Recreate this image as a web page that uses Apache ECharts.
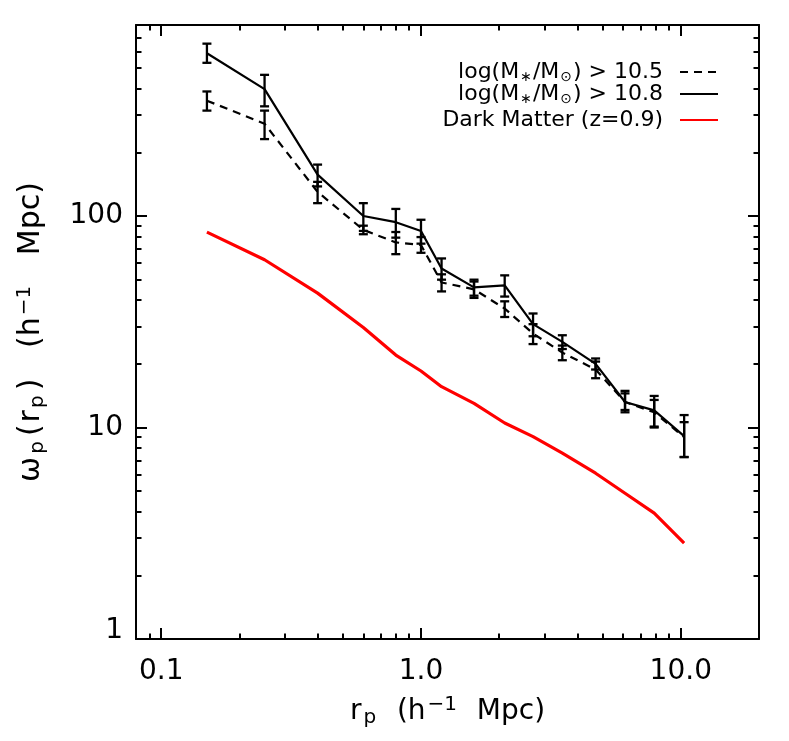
<!DOCTYPE html>
<html><head><meta charset="utf-8">
<script src="https://cdn.jsdelivr.net/npm/echarts@6/dist/echarts.min.js"></script>
<style>html,body{margin:0;padding:0;background:#fff}#c{width:789px;height:741px}</style>
</head><body><div id="c"></div>
<script>
// ---- data ----
const rp = [0.15, 0.25, 0.4, 0.6, 0.8, 1.0, 1.2, 1.6, 2.1, 2.7, 3.5, 4.7, 6.1, 7.9, 10.3];
const wp108 = [588, 398, 157, 100, 93.5, 85, 56.5, 46, 47, 30.8, 25.4, 20, 13.2, 12.05, 9.1];
const wp108Lo = [530, 330, 138, 85, 79, 74, 50, 42, 41.6, 27, 23.5, 18.8, 11.8, 10.0, 7.25];
const wp108Hi = [653, 465, 175, 115, 108, 96, 63, 50, 52.4, 34.6, 27.3, 21.2, 14.9, 14.1, 11.45];
const wp105 = [351, 273, 130, 86, 75, 73, 48.5, 45, 36.5, 27.8, 22.6, 18.8, 13.2, 11.8, 9.0];
const wp105Lo = [315, 231, 115, 82, 66, 67, 44, 41, 33.3, 24.8, 20.8, 17.1, 12.1, 10.1, 7.25];
const wp105Hi = [388, 315, 145, 90, 84, 79.5, 53, 49, 39.5, 30.8, 24.4, 20.5, 14.5, 13.5, 10.6];
const wpDM = [83.9, 62.1, 43.2, 29.7, 22.0, 18.5, 15.6, 13.0, 10.5, 9.05, 7.56, 6.08, 4.89, 3.94, 2.84];

const xMajor = [0.1, 1, 10];
const xMajorLabels = ['0.1', '1.0', '10.0'];
const xMinor = [0.09, 0.2, 0.3, 0.4, 0.5, 0.6, 0.7, 0.8, 0.9, 2, 3, 4, 5, 6, 7, 8, 9];
const yMajor = [1, 10, 100];
const yMajorLabels = ['1', '10', '100'];
const yMinor = [2, 3, 4, 5, 6, 7, 8, 9, 20, 30, 40, 50, 60, 70, 80, 90, 200, 300, 400, 500, 600, 700];

const legendNames = {
  d105: 'log(M{s|∗}/M{s|⊙}) > 10.5{g| }',
  d108: 'log(M{s|∗}/M{s|⊙}) > 10.8{g| }',
  dm: 'Dark Matter (z=0.9){g| }'
};

// ---- chart ----
const FONT = 'DejaVu Sans';
const chart = echarts.init(document.getElementById('c'), null, {renderer: 'canvas'});

function mkAxis(dim, pos, vals, len, showLine, labels) {
  const isX = dim === 'x';
  const a = {
    type: 'log', logBase: 10,
    min: isX ? 0.08 : 1, max: isX ? 20 : 800,
    position: pos, gridIndex: 0,
    splitLine: {show: false}, minorTick: {show: false}, minorSplitLine: {show: false},
    axisLine: {show: showLine, onZero: false, lineStyle: {color: '#000', width: 2}},
    axisTick: {show: true, inside: true, length: len, customValues: vals, lineStyle: {color: '#000', width: 2}},
    axisLabel: {show: false}
  };
  if (labels) {
    a.axisLabel = {
      show: true, customValues: vals, color: '#000', fontFamily: FONT, fontSize: 28,
      margin: isX ? 19 : 13,
      rich: {lift: {fontFamily: FONT, fontSize: 28, color: '#000', padding: [0, 0, 16, 0]}},
      formatter: function (v) {
        const i = vals.findIndex(t => Math.abs(Math.log10(t) - Math.log10(v)) < 1e-6);
        if (i < 0) return '';
        return (!isX && i === 0) ? '{lift|' + labels[i] + '}' : labels[i];
      }
    };
  }
  return a;
}

const richName = {
  s: {fontFamily: FONT, fontSize: 20, color: '#000', verticalAlign: 'bottom', padding: [13, 3, 0, 2]},
  u: {fontFamily: FONT, fontSize: 20, color: '#000', verticalAlign: 'top', padding: [0, 2, 13, 2]},
  w: {fontFamily: FONT, fontSize: 30, color: '#000', padding: [0, 1, 0, 0]},
  q: {fontFamily: FONT, fontSize: 30, color: '#000', padding: [0, 2, 0, 2]}
};

const xAxes = [
  mkAxis('x', 'bottom', xMajor, 11, true, xMajorLabels),
  mkAxis('x', 'bottom', xMinor, 5.5, false, null),
  mkAxis('x', 'top', xMajor, 11, true, null),
  mkAxis('x', 'top', xMinor, 5.5, false, null)
];
Object.assign(xAxes[0], {
  name: 'r{s|p}  (h{u|−1}  Mpc)', nameLocation: 'middle', nameGap: 56,
  nameTextStyle: {fontFamily: FONT, fontSize: 28, color: '#000', rich: richName}
});
const yAxes = [
  mkAxis('y', 'left', yMajor, 11, true, yMajorLabels),
  mkAxis('y', 'left', yMinor, 5.5, false, null),
  mkAxis('y', 'right', yMajor, 11, true, null),
  mkAxis('y', 'right', yMinor, 5.5, false, null)
];
Object.assign(yAxes[0], {
  name: '{w|ω}{s|p}{q|(}r{s|p}{q|)}   (h{u|−1}   Mpc)', nameLocation: 'middle', nameGap: 88,
  nameTextStyle: {fontFamily: FONT, fontSize: 30, color: '#000', rich: richName}
});

function errBar(lo, hi) {
  return {
    type: 'custom', xAxisIndex: 0, yAxisIndex: 0, silent: true, z: 4,
    data: rp.map((x, i) => [x, lo[i], hi[i]]),
    encode: {x: 0, y: [1, 2]},
    renderItem: function (params, api) {
      const x = api.value(0);
      const p1 = api.coord([x, api.value(2)]);
      const p2 = api.coord([x, api.value(1)]);
      const w = 4.5;
      const st = {stroke: '#000', lineWidth: 2.3};
      return {type: 'group', children: [
        {type: 'line', shape: {x1: p1[0], y1: p1[1], x2: p2[0], y2: p2[1]}, style: st},
        {type: 'line', shape: {x1: p1[0] - w, y1: p1[1], x2: p1[0] + w, y2: p1[1]}, style: st},
        {type: 'line', shape: {x1: p2[0] - w, y1: p2[1], x2: p2[0] + w, y2: p2[1]}, style: st}
      ]};
    }
  };
}

function mkLegend(name, top) {
  return {
    data: [name], right: 70, top: top, orient: 'vertical', align: 'right', padding: 0,
    itemWidth: 38, itemHeight: 14, selectedMode: false,
    itemStyle: {opacity: 0},
    formatter: n => legendNames[n],
    textStyle: {fontFamily: FONT, fontSize: 22, color: '#000',
      rich: {s: {fontFamily: FONT, fontSize: 14, color: '#000', verticalAlign: 'bottom', padding: [10, 1, 0, 1]},
             g: {fontFamily: FONT, fontSize: 22, width: 12}}}
  };
}

chart.setOption({
  animation: false,
  backgroundColor: '#fff',
  textStyle: {fontFamily: FONT},
  grid: {left: 136, top: 25, width: 623, height: 614},
  xAxis: xAxes,
  yAxis: yAxes,
  legend: [mkLegend('d105', 61), mkLegend('d108', 83), mkLegend('dm', 109)],
  series: [
    {name: 'd105', type: 'line', xAxisIndex: 0, yAxisIndex: 0, symbol: 'none', z: 3,
     data: rp.map((x, i) => [x, wp105[i]]),
     itemStyle: {color: '#000'}, lineStyle: {color: '#000', width: 2.2, type: [8, 6]}},
    {name: 'd108', type: 'line', xAxisIndex: 0, yAxisIndex: 0, symbol: 'none', z: 3,
     data: rp.map((x, i) => [x, wp108[i]]),
     itemStyle: {color: '#000'}, lineStyle: {color: '#000', width: 2.2}},
    {name: 'dm', type: 'line', xAxisIndex: 0, yAxisIndex: 0, symbol: 'none', z: 3,
     data: rp.map((x, i) => [x, wpDM[i]]),
     itemStyle: {color: '#ff0000'}, lineStyle: {color: '#ff0000', width: 3.2}},
    errBar(wp105Lo, wp105Hi),
    errBar(wp108Lo, wp108Hi)
  ]
});
</script></body></html>
